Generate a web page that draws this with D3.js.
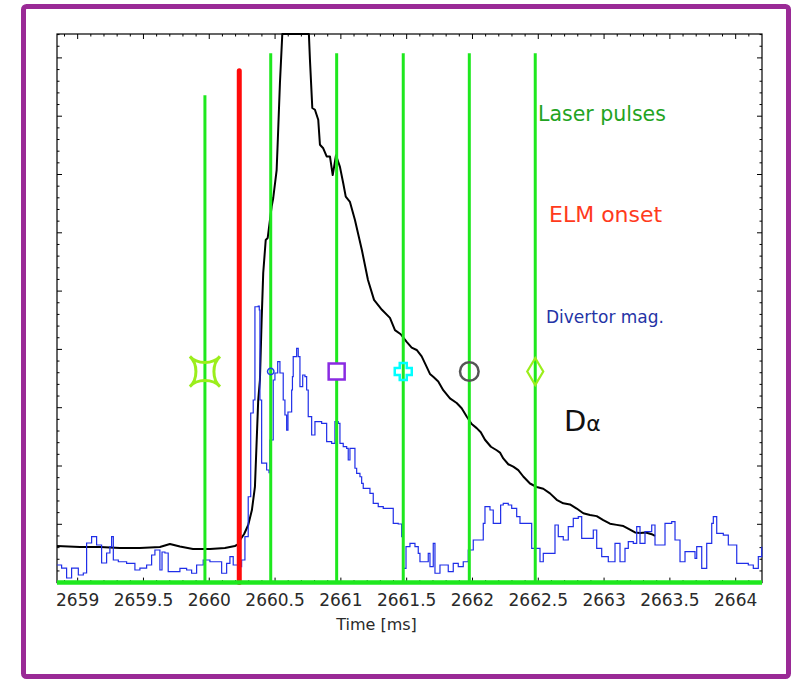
<!DOCTYPE html>
<html>
<head>
<meta charset="utf-8">
<script src="https://cdn.jsdelivr.net/npm/d3@7"></script>
<style>
  html, body { margin: 0; padding: 0; background: #fff; }
  svg { display: block; }
  text { font-family: "DejaVu Sans", sans-serif; }
</style>
</head>
<body>
<svg id="chart" width="796" height="679"></svg>
<script>
// D-alpha emission (time in ms, arbitrary units); flat top = detector saturation
const dalphaTime = [2658.843, 2659.017, 2659.169, 2659.321, 2659.473, 2659.625, 2659.701, 2659.777, 2659.876, 2660.006,
  2660.119, 2660.195, 2660.218, 2660.234, 2660.265, 2660.296, 2660.324, 2660.347, 2660.372, 2660.385,
  2660.398, 2660.410, 2660.429, 2660.444, 2660.474, 2660.486, 2660.512, 2660.520, 2660.537, 2660.555,
  2660.651, 2660.757, 2660.765, 2660.783, 2660.803, 2660.828, 2660.841, 2660.866, 2660.892, 2660.917,
  2660.938, 2660.963, 2660.993, 2661.018, 2661.037, 2661.069, 2661.107, 2661.160, 2661.206, 2661.252,
  2661.312, 2661.373, 2661.411, 2661.455, 2661.500, 2661.538, 2661.576, 2661.614, 2661.652, 2661.677,
  2661.702, 2661.740, 2661.778, 2661.829, 2661.880, 2661.918, 2661.956, 2661.994, 2662.032, 2662.063,
  2662.095, 2662.140, 2662.184, 2662.209, 2662.234, 2662.272, 2662.310, 2662.348, 2662.386, 2662.437,
  2662.488, 2662.538, 2662.589, 2662.640, 2662.690, 2662.741, 2662.792, 2662.842, 2662.893, 2662.944,
  2662.994, 2663.045, 2663.096, 2663.147, 2663.197, 2663.235, 2663.273, 2663.318, 2663.362, 2663.387];
const dalphaValue = [0.628, 0.611, 0.611, 0.593, 0.593, 0.611, 0.662, 0.619, 0.576, 0.576,
  0.593, 0.628, 0.654, 0.731, 0.834, 0.988, 1.245, 1.640, 3.132, 3.475,
  4.504, 5.311, 5.877, 5.911, 6.448, 6.597, 7.077, 7.540, 8.569, 9.41,
  9.41, 9.41, 8.97, 8.14, 8.11, 7.94, 7.51, 7.45, 7.31, 7.31,
  6.99, 7.33, 7.13, 6.85, 6.62, 6.53, 6.22, 5.70, 5.19, 4.85,
  4.68, 4.54, 4.33, 4.26, 4.13, 4.03, 3.99, 3.88, 3.70, 3.58,
  3.53, 3.45, 3.30, 3.16, 3.08, 2.99, 2.85, 2.72, 2.65, 2.58,
  2.45, 2.33, 2.27, 2.23, 2.13, 2.03, 1.99, 1.93, 1.82, 1.70,
  1.64, 1.61, 1.53, 1.42, 1.36, 1.34, 1.27, 1.19, 1.16, 1.14,
  1.07, 1.01, 0.99, 0.97, 0.91, 0.86, 0.85, 0.86, 0.83, 0.80];

// Divertor magnetic probe signal (sample-and-hold)
const magTime = [2658.843, 2658.878, 2658.916, 2658.954, 2659.005, 2659.043, 2659.068, 2659.106, 2659.144, 2659.182,
  2659.220, 2659.245, 2659.258, 2659.271, 2659.309, 2659.372, 2659.435, 2659.473, 2659.524, 2659.562,
  2659.587, 2659.610, 2659.625, 2659.641, 2659.663, 2659.688, 2659.726, 2659.777, 2659.828, 2659.866,
  2659.904, 2659.954, 2660.005, 2660.056, 2660.094, 2660.132, 2660.157, 2660.182, 2660.220, 2660.246,
  2660.271, 2660.296, 2660.315, 2660.334, 2660.347, 2660.372, 2660.380, 2660.385, 2660.398, 2660.436,
  2660.454, 2660.461, 2660.486, 2660.499, 2660.520, 2660.537, 2660.562, 2660.575, 2660.588, 2660.598,
  2660.626, 2660.632, 2660.638, 2660.664, 2660.676, 2660.689, 2660.710, 2660.727, 2660.740, 2660.752,
  2660.778, 2660.803, 2660.854, 2660.892, 2660.930, 2660.955, 2660.980, 2660.993, 2661.018, 2661.044,
  2661.056, 2661.069, 2661.094, 2661.107, 2661.120, 2661.145, 2661.158, 2661.170, 2661.196, 2661.221,
  2661.246, 2661.284, 2661.322, 2661.373, 2661.398, 2661.436, 2661.462, 2661.474, 2661.495, 2661.525,
  2661.563, 2661.588, 2661.601, 2661.639, 2661.664, 2661.677, 2661.702, 2661.715, 2661.753, 2661.804,
  2661.816, 2661.854, 2661.892, 2661.930, 2661.956, 2661.968, 2662.006, 2662.044, 2662.082, 2662.095,
  2662.133, 2662.158, 2662.196, 2662.214, 2662.234, 2662.272, 2662.298, 2662.336, 2662.361, 2662.437,
  2662.450, 2662.488, 2662.513, 2662.538, 2662.589, 2662.627, 2662.652, 2662.690, 2662.728, 2662.766,
  2662.804, 2662.830, 2662.880, 2662.918, 2662.944, 2662.982, 2663.032, 2663.083, 2663.121, 2663.159,
  2663.184, 2663.222, 2663.248, 2663.273, 2663.311, 2663.362, 2663.387, 2663.450, 2663.463, 2663.514,
  2663.539, 2663.577, 2663.615, 2663.653, 2663.691, 2663.704, 2663.742, 2663.780, 2663.818, 2663.830,
  2663.856, 2663.906, 2663.944, 2663.982, 2664.008, 2664.058, 2664.096, 2664.134, 2664.172, 2664.198];
const magValue = [0.302, 0.250, 0.079, 0.250, 0.130, 0.165, 0.679, 0.787, 0.645, 0.336,
  0.508, 0.616, 0.787, 0.388, 0.358, 0.331, 0.216, 0.250, 0.302, 0.473,
  0.559, 0.559, 0.216, 0.525, 0.508, 0.187, 0.187, 0.245, 0.216, 0.160,
  0.302, 0.388, 0.358, 0.358, 0.160, 0.331, 0.444, 0.302, 0.273, 0.388,
  0.787, 1.473, 2.909, 3.132, 4.732, 4.744, 4.676, 3.132, 2.051, 1.931,
  1.885, 2.446, 3.475, 3.595, 3.789, 3.595, 3.132, 2.875, 2.617, 2.926,
  3.304, 3.532, 3.875, 4.019, 3.875, 3.360, 3.561, 3.532, 3.304, 2.846,
  2.532, 2.760, 2.732, 2.417, 2.389, 2.760, 2.732, 2.389, 2.331, 2.304,
  2.103, 2.304, 2.304, 1.961, 1.875, 1.816, 1.703, 1.617, 1.617, 1.532,
  1.360, 1.302, 1.274, 1.274, 1.017, 1.005, 0.787, 0.245, 0.616, 0.674,
  0.616, 0.503, 0.358, 0.358, 0.503, 0.273, 0.674, 0.160, 0.302, 0.302,
  0.187, 0.331, 0.273, 0.358, 0.358, 0.559, 0.731, 0.731, 1.017, 1.302,
  1.245, 1.017, 1.017, 1.331, 1.360, 1.331, 1.274, 1.130, 1.017, 1.017,
  0.588, 0.588, 0.358, 0.503, 0.503, 0.988, 0.787, 0.731, 0.959, 1.103,
  1.130, 0.760, 0.760, 0.902, 0.588, 0.444, 0.358, 0.674, 0.358, 0.588,
  0.702, 0.674, 0.959, 0.674, 0.873, 0.988, 0.645, 0.645, 1.017, 1.045,
  0.731, 0.358, 0.530, 0.530, 0.417, 0.616, 0.245, 0.674, 1.017, 1.130,
  0.846, 0.816, 0.645, 0.645, 0.331, 0.331, 0.302, 0.245, 0.444, 0.616];

// Laser pulse times, line heights and the marker drawn on each
const laserTimes = [2659.967, 2660.467, 2660.968, 2661.474, 2661.976, 2662.477];
const laserTops = [8.36, 9.08, 9.08, 9.08, 9.08, 9.08];
const laserMarkers = ["star", "dot", "square", "cross", "ring", "diamond"];
const markerLevel = 3.62;

// ELM onset
const elmTime = 2660.228;
const elmTop = 8.78;

// Axis ticks and labels
const xTickLabels = [2659, 2659.5, 2660, 2660.5, 2661, 2661.5, 2662, 2662.5, 2663, 2663.5, 2664];
const xDomain = [2658.843, 2664.2];
const yDomain = [0, 9.41];

// Annotations
const legendTexts = ["Laser pulses", "ELM onset", "Divertor mag."];
const seriesLabel = ["D", "α"];
const xTitle = "Time [ms]";

const svg = d3.select("#chart");
const plotL = 57, plotR = 762, plotT = 34, plotB = 582.6;

const x = d3.scaleLinear().domain(xDomain).range([plotL, plotR]);
const y = d3.scaleLinear().domain(yDomain).range([plotB, plotT]);

// outer purple frame
svg.append("rect")
  .attr("x", 23.5).attr("y", 6.5).attr("width", 765).attr("height", 670)
  .attr("rx", 3).attr("fill", "none")
  .attr("stroke", "#9a2a96").attr("stroke-width", 5);

// ticks (all pointing inward)
const minorX = d3.range(2658.9, 2664.2, 0.1).map(v => +v.toFixed(1));
const minorY = d3.range(0, 9.41, 0.2).map(v => +v.toFixed(1));
const isMajorX = v => Math.abs(v * 2 - Math.round(v * 2)) < 1e-6;
const isMajorY = v => Math.abs(v - Math.round(v)) < 1e-6;

const ticks = svg.append("g").attr("stroke", "#000").attr("stroke-width", 1);
minorX.forEach(v => {
  const len = isMajorX(v) ? 5 : 2.5;
  ticks.append("line").attr("x1", x(v)).attr("x2", x(v)).attr("y1", plotT).attr("y2", plotT + len);
  ticks.append("line").attr("x1", x(v)).attr("x2", x(v)).attr("y1", plotB).attr("y2", plotB - len);
});
minorY.forEach(v => {
  const len = isMajorY(v) ? 5 : 2.5;
  ticks.append("line").attr("x1", plotL).attr("x2", plotL + len).attr("y1", y(v)).attr("y2", y(v));
  ticks.append("line").attr("x1", plotR).attr("x2", plotR - len).attr("y1", y(v)).attr("y2", y(v));
});

// plot frame
svg.append("rect")
  .attr("x", plotL).attr("y", plotT).attr("width", plotR - plotL).attr("height", plotB - plotT)
  .attr("fill", "none").attr("stroke", "#000").attr("stroke-width", 1.2);

// D-alpha trace
const dalpha = dalphaTime.map((t, i) => [t, dalphaValue[i]]);
svg.append("path")
  .datum(dalpha)
  .attr("fill", "none").attr("stroke", "#000").attr("stroke-width", 2)
  .attr("stroke-linejoin", "round")
  .attr("d", d3.line().x(d => x(d[0])).y(d => y(d[1])));

// divertor magnetic trace
const mag = magTime.map((t, i) => [t, magValue[i]]);
svg.append("path")
  .datum(mag)
  .attr("fill", "none").attr("stroke", "#1f2ee8").attr("stroke-width", 1.2)
  .attr("d", d3.line().curve(d3.curveStepAfter).x(d => x(d[0])).y(d => y(d[1])));

// laser pulse lines
svg.append("g").selectAll("line")
  .data(laserTimes)
  .join("line")
  .attr("x1", d => x(d)).attr("x2", d => x(d))
  .attr("y1", y(0)).attr("y2", (d, i) => y(laserTops[i]))
  .attr("stroke", "#1ee81e").attr("stroke-width", 3);

// ELM onset line
svg.append("line")
  .attr("x1", x(elmTime)).attr("x2", x(elmTime))
  .attr("y1", y(0)).attr("y2", y(elmTop))
  .attr("stroke", "#ff0a0a").attr("stroke-width", 5).attr("stroke-linecap", "round");

// markers on each laser pulse
const markerPaths = {
  star: "M-15,-15 C-8,-7 8,-7 15,-15 C7,-8 7,8 15,15 C8,7 -8,7 -15,15 C-7,8 -7,-8 -15,-15 Z",
  square: "M-8,-8 H8 V8 H-8 Z",
  cross: "M-3.5,-8.5 H3.5 V-3.5 H8.5 V3.5 H3.5 V8.5 H-3.5 V3.5 H-8.5 V-3.5 H-3.5 Z",
  diamond: "M0,-13.5 L8,0 L0,13.5 L-8,0 Z"
};
const markerStyle = {
  star: { stroke: "#9bee1c", width: 3, fill: "none" },
  dot: { stroke: "#1f40e8", width: 1.5, fill: "none" },
  square: { stroke: "#8a2be2", width: 2.5, fill: "#fff" },
  cross: { stroke: "#00ffff", width: 2.5, fill: "none" },
  ring: { stroke: "#555", width: 2.5, fill: "none" },
  diamond: { stroke: "#9bee1c", width: 2.2, fill: "none" }
};
const mk = svg.append("g");
laserTimes.forEach((t, i) => {
  const kind = laserMarkers[i];
  const s = markerStyle[kind];
  const g = mk.append("g").attr("transform", `translate(${x(t)},${y(markerLevel)})`);
  let shape;
  if (kind === "dot") shape = g.append("circle").attr("r", 3.2);
  else if (kind === "ring") shape = g.append("circle").attr("r", 9.3);
  else shape = g.append("path").attr("d", markerPaths[kind]);
  shape.attr("fill", s.fill).attr("stroke", s.stroke).attr("stroke-width", s.width);
});

// green baseline along the time axis
svg.append("line")
  .attr("x1", plotL).attr("x2", plotR).attr("y1", y(0)).attr("y2", y(0))
  .attr("stroke", "#1ee81e").attr("stroke-width", 4.5);

// time axis labels
svg.append("g").selectAll("text")
  .data(xTickLabels)
  .join("text")
  .attr("x", d => x(d)).attr("y", 606)
  .attr("text-anchor", "middle")
  .attr("font-size", 17).attr("fill", "#2a2a2a")
  .text(d => d);

svg.append("text")
  .attr("x", 376.5).attr("y", 630)
  .attr("text-anchor", "middle").attr("font-size", 16).attr("fill", "#2a2a2a")
  .text(xTitle);

// annotations
svg.append("text").attr("x", 538).attr("y", 120.5)
  .attr("font-size", 20.5).attr("fill", "#22a322").text(legendTexts[0]);
svg.append("text").attr("x", 549).attr("y", 221.5)
  .attr("font-size", 22).attr("fill", "#ff3a1c").text(legendTexts[1]);
svg.append("text").attr("x", 546).attr("y", 323)
  .attr("font-size", 17).attr("fill", "#2433a6").text(legendTexts[2]);

const da = svg.append("text").attr("x", 564).attr("y", 430.5).attr("fill", "#111");
da.append("tspan").attr("font-size", 29).text(seriesLabel[0]);
da.append("tspan").attr("font-size", 22).text(seriesLabel[1]);
</script>
</body>
</html>
